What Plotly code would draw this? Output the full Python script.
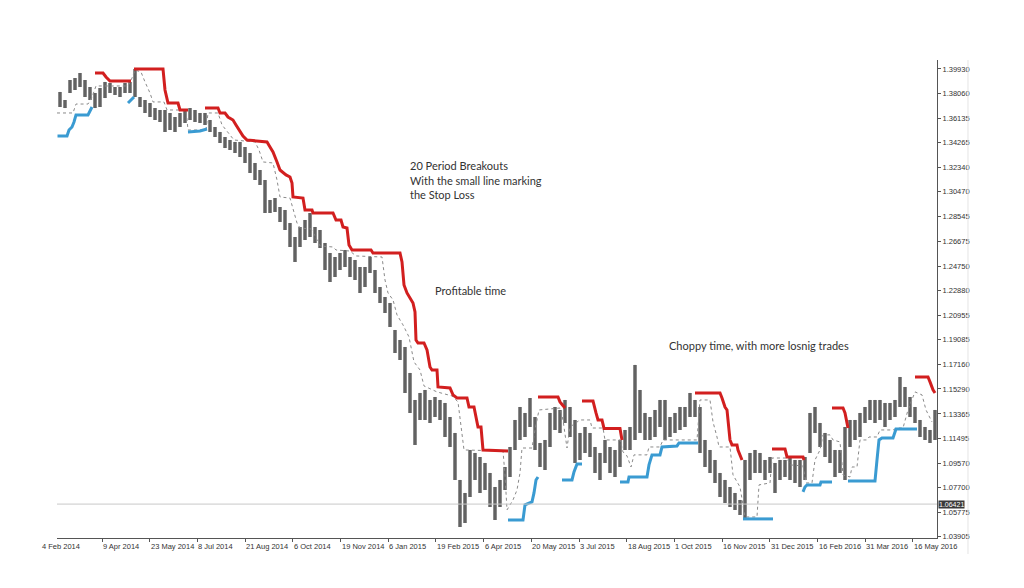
import plotly.graph_objects as go
import numpy as np

# ---- price data (blocks of ~3 trading days, EUR/USD daily) ----
highs = [1.3816,1.3754,1.3908,1.3923,1.3962,1.3908,1.3854,1.3808,1.3846,1.3893,
         1.3885,1.3854,1.3854,1.3885,1.3893,1.3993,1.3777,1.3754,1.3731,1.3692,
         1.3677,1.3677,1.3654,1.3623,1.3654,1.3677,1.3692,1.3677,1.3654,1.3654,
         1.3600,1.3546,1.3508,1.3469,1.3446,1.3431,1.3431,1.3392,1.3346,1.3269,
         1.3215,1.3138,1.2984,1.2999,1.2930,1.2907,1.2807,1.2699,1.2776,1.2830,
         1.2884,1.2776,1.2753,1.2653,1.2576,1.2545,1.2576,1.2599,1.2545,1.2522,
         1.2468,1.2468,1.2545,1.2445,1.2314,1.2237,1.2191,1.1983,1.1906,1.1852,
         1.1652,1.1444,1.1498,1.1521,1.1444,1.1467,1.1444,1.1421,1.1313,1.1190,
         1.0828,1.0728,1.1059,1.1036,1.1005,1.0959,1.0882,1.0774,1.0828,1.0928,
         1.1082,1.1290,1.1390,1.1344,1.1459,1.1313,1.1113,1.1136,1.1344,1.1390,
         1.1367,1.1444,1.1390,1.1290,1.1190,1.1236,1.1190,1.1082,1.1036,1.1136,
         1.1082,1.1059,1.1136,1.1213,1.1236,1.1714,1.1521,1.1344,1.1313,1.1367,
         1.1444,1.1444,1.1313,1.1344,1.1390,1.1390,1.1498,1.1444,1.1390,1.1136,
         1.1059,1.0982,1.0882,1.0828,1.0774,1.0728,1.0674,1.0982,1.1036,1.1059,
         1.1036,1.0982,1.1005,1.0959,1.0982,1.0982,1.1005,1.0982,1.0982,1.1005,
         1.1344,1.1390,1.1267,1.1190,1.1136,1.1059,1.1059,1.1236,1.1290,1.1290,
         1.1344,1.1390,1.1444,1.1444,1.1444,1.1421,1.1421,1.1444,1.1621,1.1544,
         1.1467,1.1390,1.1290,1.1236,1.1213,1.1367]
lows = [1.3700,1.3692,1.3808,1.3831,1.3854,1.3777,1.3754,1.3692,1.3700,1.3769,
        1.3808,1.3793,1.3777,1.3808,1.3808,1.3777,1.3700,1.3654,1.3623,1.3600,
        1.3585,1.3508,1.3523,1.3508,1.3546,1.3577,1.3600,1.3585,1.3577,1.3562,
        1.3508,1.3469,1.3423,1.3384,1.3369,1.3346,1.3315,1.3269,1.3192,1.3138,
        1.3100,1.2884,1.2884,1.2892,1.2815,1.2753,1.2622,1.2507,1.2622,1.2676,
        1.2699,1.2653,1.2614,1.2445,1.2353,1.2391,1.2445,1.2468,1.2391,1.2368,
        1.2268,1.2314,1.2422,1.2268,1.2191,1.2114,1.2006,1.1806,1.1752,1.1498,
        1.1344,1.1098,1.1290,1.1290,1.1267,1.1313,1.1290,1.1159,1.1082,1.0828,
        1.0466,1.0497,1.0697,1.0828,1.0728,1.0751,1.0620,1.0520,1.0620,1.0751,
        1.0851,1.1059,1.1136,1.1159,1.1236,1.1059,1.0928,1.0905,1.1082,1.1213,
        1.1190,1.1267,1.1159,1.0959,1.0982,1.1036,1.1005,1.0882,1.0828,1.0959,
        1.0882,1.0851,1.0928,1.1059,1.1059,1.1136,1.1190,1.1136,1.1136,1.1159,
        1.1236,1.1136,1.1159,1.1190,1.1213,1.1236,1.1313,1.1313,1.1036,1.0928,
        1.0882,1.0805,1.0697,1.0651,1.0620,1.0597,1.0559,1.0535,1.0828,1.0882,
        1.0882,1.0828,1.0882,1.0728,1.0828,1.0851,1.0828,1.0805,1.0774,1.0828,
        1.1036,1.1190,1.1082,1.1005,1.0959,1.0851,1.0882,1.0828,1.1082,1.1136,
        1.1159,1.1267,1.1290,1.1267,1.1290,1.1236,1.1290,1.1313,1.1390,1.1390,
        1.1313,1.1267,1.1159,1.1136,1.1113,1.1136]

# ---- 20-period breakout lines (red = short side, blue = long side) ----
red_segments = [
    ([7, 8.6, 9.2, 10, 14.2], [1.3962, 1.3962, 1.3931, 1.3900, 1.3900]),
    ([14.8, 20.6, 21, 21.6, 23.6, 24, 25.6],
     [1.3993, 1.3993, 1.3831, 1.3731, 1.3731, 1.3677, 1.3677]),
    ([29, 31.6, 32, 33, 33.6, 34.6, 35.2, 36, 36.6, 37.4, 41.4, 42, 42.6, 43.4, 44,
      45.2, 46, 46.4, 46.6, 48.6, 49, 50.4, 50.6, 54.6, 55.2, 56.2, 56.6, 57.4, 57.8,
      58.4, 62.2, 62.6, 68, 68.4, 68.8, 69.4, 70.6, 71, 71.2, 71.6, 72.8, 73.4, 74,
      74.4, 75.4, 75.6, 78, 78.6, 79.4, 81.4, 81.8, 82.8, 83.2, 83.6, 84.2, 84.6, 89.6],
     [1.3692, 1.3692, 1.3654, 1.3654, 1.3623, 1.3600, 1.3562, 1.3508, 1.3477, 1.3446,
      1.3431, 1.3392, 1.3354, 1.3277, 1.3215, 1.3177, 1.3161, 1.3115, 1.3007, 1.2999,
      1.2907, 1.2907, 1.2884, 1.2884, 1.2830, 1.2830, 1.2776, 1.2768, 1.2638, 1.2599,
      1.2599, 1.2576, 1.2576, 1.2507, 1.2330, 1.2268, 1.2191, 1.2122, 1.1906, 1.1883,
      1.1883, 1.1830, 1.1698, 1.1675, 1.1675, 1.1544, 1.1536, 1.1483, 1.1459, 1.1459,
      1.1390, 1.1390, 1.1313, 1.1236, 1.1236, 1.1059, 1.1051]),
    ([95.6, 99.6, 100, 101], [1.1467, 1.1467, 1.1429, 1.1382]),
    ([104.4, 106.6, 107.2, 107.6, 108.4, 108.8, 112, 112.4],
     [1.1436, 1.1436, 1.1344, 1.1290, 1.1290, 1.1225, 1.1225, 1.1136]),
    ([127, 132, 132.4, 133, 133.4, 134, 134.4, 135.4, 135.6, 136.4],
     [1.1498, 1.1498, 1.1459, 1.1390, 1.1367, 1.1136, 1.1098, 1.1098, 1.1059, 1.0982]),
    ([142.4, 145, 145.4, 148.6, 148.8], [1.1067, 1.1067, 1.1005, 1.1005, 1.0982]),
    ([154.4, 156.6, 157, 157.6], [1.1382, 1.1382, 1.1344, 1.1228]),
    ([171, 173.6, 174, 174.6, 175], [1.1621, 1.1621, 1.1583, 1.1522, 1.1498]),
]
blue_segments = [
    ([-0.5, 1.4, 1.8, 2.4, 2.8, 3.2, 5.6, 6, 6.4],
     [1.3477, 1.3477, 1.3523, 1.3546, 1.3585, 1.3639, 1.3639, 1.3677, 1.3700]),
    ([13.6, 14.2, 14.8], [1.3731, 1.3754, 1.3777]),
    ([25.6, 28, 29.4], [1.3508, 1.3515, 1.3531]),
    ([89.6, 92.6, 93, 94.4, 94.8, 95.2, 95.6],
     [1.0520, 1.0520, 1.0636, 1.0659, 1.0728, 1.0828, 1.0851]),
    ([100.4, 102.4, 102.8, 103.4, 104.4], [1.0828, 1.0828, 1.0890, 1.0951, 1.0951]),
    ([112, 113.6, 113.8, 117.4, 117.8, 118.4, 120, 120.4, 123.4, 123.8, 127.6],
     [1.0813, 1.0813, 1.0851, 1.0851, 1.0944, 1.1021, 1.1021, 1.1082, 1.1090, 1.1113, 1.1113]),
    ([136.6, 142.6], [1.0528, 1.0528]),
    ([148.6, 149, 149.4, 152, 152.2, 154.4], [1.0736, 1.0774, 1.0790, 1.0790, 1.0813, 1.0813]),
    ([157.6, 163, 163.4, 163.8, 164.4, 166.6, 167.2, 171.4],
     [1.0820, 1.0820, 1.0982, 1.1136, 1.1151, 1.1151, 1.1221, 1.1221]),
]

# ---- stop-loss (small) line ----
stop_x = [-0.6, 2.6, 3.2, 5.6, 6.4, 7.2, 13.6, 14.4, 15, 16.2, 17, 18, 18.6, 20.8, 21.4,
          25.2, 25.6, 29.2, 29.6, 31.6, 32.4, 33.6, 34.8, 39, 39.8, 40.6, 42.6, 43.4, 44,
          46, 46.6, 47.4, 48, 50.2, 51, 52, 54.6, 55.2, 58, 59.2, 64.4, 65, 65.6, 66.6,
          67.4, 68.6, 69.8, 70.8, 72, 72.8, 75.4, 78.4, 79.6, 80.2, 80.8, 88.6, 89, 89.4,
          90.6, 91.4, 92, 92.4, 94.4, 95, 95.8, 100, 100.6, 101.4, 102, 104, 106, 106.4,
          108.6, 109, 112, 112.6, 113.4, 114.2, 114.8, 117.4, 117.8, 120, 120.6, 127.4,
          128, 130, 130.6, 131.4, 131.8, 134, 134.6, 136, 137, 139.4, 139.8, 142, 142.4,
          145.4, 146, 148.6, 149.2, 150.4, 151, 152, 152.6, 154, 154.6, 156, 156.6, 158,
          158.4, 159.4, 160, 161.4, 161.8, 163.4, 164, 166.6, 167.4, 168.6, 169.6, 171,
          172.4, 173.2, 174.4]
stop_y = [1.3654, 1.3654, 1.3723, 1.3723, 1.3777, 1.3862, 1.3862, 1.3923, 1.3985, 1.3970,
          1.3893, 1.3808, 1.3739, 1.3739, 1.3677, 1.3677, 1.3523, 1.3523, 1.3654, 1.3654,
          1.3562, 1.3500, 1.3446, 1.3431, 1.3369, 1.3277, 1.3269, 1.3138, 1.3007, 1.2999,
          1.2907, 1.2807, 1.2768, 1.2761, 1.2707, 1.2630, 1.2622, 1.2599, 1.2591, 1.2553,
          1.2545, 1.2368, 1.2268, 1.2215, 1.2099, 1.2022, 1.1929, 1.1737, 1.1675, 1.1552,
          1.1506, 1.1475, 1.1429, 1.1252, 1.1059, 1.1051, 1.0867, 1.0597, 1.0674, 1.0751,
          1.0882, 1.1074, 1.1074, 1.1213, 1.1367, 1.1382, 1.1290, 1.1074, 1.1236, 1.1290,
          1.1290, 1.1228, 1.1228, 1.1136, 1.1136, 1.1044, 1.1013, 1.0928, 1.1021, 1.1021,
          1.1082, 1.1082, 1.1136, 1.1136, 1.1444, 1.1444, 1.1275, 1.1159, 1.1082, 1.1082,
          1.0867, 1.0774, 1.0543, 1.0543, 1.0790, 1.0805, 1.0997, 1.0997, 1.0944, 1.0936,
          1.0805, 1.0805, 1.0982, 1.1059, 1.1175, 1.1175, 1.1136, 1.1121, 1.0867, 1.0851,
          1.0928, 1.0928, 1.1136, 1.1136, 1.1159, 1.1159, 1.1213, 1.1213, 1.1228, 1.1228,
          1.1367, 1.1506, 1.1483, 1.1367, 1.1275]

last_price = 1.06421

price_ticks = [1.39930, 1.38060, 1.36135, 1.34265, 1.32340, 1.30470, 1.28545, 1.26675,
               1.24750, 1.22880, 1.20955, 1.19085, 1.17160, 1.15290, 1.13365, 1.11495,
               1.09570, 1.07700, 1.05775, 1.03905]
date_labels = ["9 Apr 2014", "23 May 2014", "8 Jul 2014", "21 Aug 2014", "6 Oct 2014",
               "19 Nov 2014", "6 Jan 2015", "19 Feb 2015", "6 Apr 2015", "20 May 2015",
               "3 Jul 2015", "18 Aug 2015", "1 Oct 2015", "16 Nov 2015", "31 Dec 2015",
               "16 Feb 2016", "31 Mar 2016", "16 May 2016"]
first_label = "4 Feb 2014"

# ---- build ----
n = len(highs)
xb = np.arange(n)
hi = np.array(highs)
lo = np.array(lows)

fig = go.Figure()

# range of each block (light) with a darker stroke through it for bar texture
fig.add_trace(go.Bar(x=xb, y=hi - lo, base=lo, width=0.62,
                     marker=dict(color="#8c8c8c", line=dict(width=0)),
                     hoverinfo="skip"))
seg_x, seg_y = [], []
for i in range(n):
    seg_x += [i, i, None]
    seg_y += [lows[i], highs[i], None]
fig.add_trace(go.Scatter(x=seg_x, y=seg_y, mode="lines",
                         line=dict(color="#383838", width=1), hoverinfo="skip"))

fig.add_trace(go.Scatter(x=stop_x, y=stop_y, mode="lines",
                         line=dict(color="#8a8a8a", width=1, dash="dot"),
                         hoverinfo="skip"))

for sx, sy in red_segments:
    fig.add_trace(go.Scatter(x=sx, y=sy, mode="lines",
                             line=dict(color="#d21f1f", width=3),
                             hoverinfo="skip"))
for sx, sy in blue_segments:
    fig.add_trace(go.Scatter(x=sx, y=sy, mode="lines",
                             line=dict(color="#3a9bd2", width=3),
                             hoverinfo="skip"))

# current price line
fig.add_hline(y=last_price, line=dict(color="#c8c8c8", width=1))

tick_first = 8.4
tick_step = 9.54
tick_pos = [tick_first + tick_step * k for k in range(len(date_labels))]

axis_font = dict(family="Liberation Sans, Arial, sans-serif", size=7.5, color="#333333")

annotations = []
for pos, lab in zip(tick_pos, date_labels):
    annotations.append(dict(x=pos, y=0, xref="x", yref="paper", text=lab,
                            xanchor="left", yanchor="top", yshift=-2, xshift=-1,
                            showarrow=False, font=axis_font))
annotations.append(dict(x=-0.0195, y=0, xref="paper", yref="paper", text=first_label,
                        xanchor="left", yanchor="top", yshift=-2,
                        showarrow=False, font=axis_font))
annotations.append(dict(x=1.0, y=last_price, xref="paper", yref="y",
                        text="%.5f" % last_price, xanchor="left", yanchor="middle",
                        xshift=1, showarrow=False, bgcolor="#3a3a3a",
                        font=dict(family="Liberation Sans, Arial, sans-serif", size=7, color="#ffffff"),
                        borderpad=0))

note_font = dict(family="Lato, Calibri, sans-serif", size=11, color="#333333")
notes = [
    ("20 Period Breakouts", 0.3989, 0.7803),
    ("With the small line marking", 0.3989, 0.7469),
    ("the Stop Loss", 0.3989, 0.7176),
    ("Profitable time", 0.4273, 0.5188),
    ("Choppy time, with more losnig trades", 0.6932, 0.4017),
]
for txt, ax_, ay_ in notes:
    annotations.append(dict(x=ax_, y=ay_, xref="paper", yref="paper", text=txt,
                            xanchor="left", yanchor="middle", showarrow=False,
                            font=note_font))

# page body has an 8px margin, so the figure is sized/offset to compensate
fig.update_layout(
    width=1016, height=580,
    margin=dict(l=49, r=87, t=52, b=50),
    paper_bgcolor="white", plot_bgcolor="white",
    showlegend=False, bargap=0,
    annotations=annotations,
    shapes=[
        dict(type="line", xref="paper", yref="paper", x0=0.0, x1=1.0352, y0=-0.0335, y1=-0.0335,
             line=dict(color="#bdbdbd", width=1.5)),
        dict(type="line", xref="paper", yref="paper", x0=1.0352, x1=1.0352, y0=-0.0335, y1=1.0,
             line=dict(color="#e4e4e4", width=1)),
    ],
    xaxis=dict(range=[-0.6, 175.4], showgrid=False, zeroline=False,
               showline=True, linecolor="#555555", linewidth=1,
               tickvals=tick_pos, ticks="outside", ticklen=3, tickcolor="#555555",
               showticklabels=False),
    yaxis=dict(range=[1.0381, 1.4062], side="right", showgrid=False, zeroline=False,
               showline=True, linecolor="#555555", linewidth=1,
               tickvals=price_ticks, ticktext=["%.5f" % v for v in price_ticks],
               ticks="outside", ticklen=3, tickcolor="#555555",
               tickfont=axis_font),
)

fig.write_html("out.html")
